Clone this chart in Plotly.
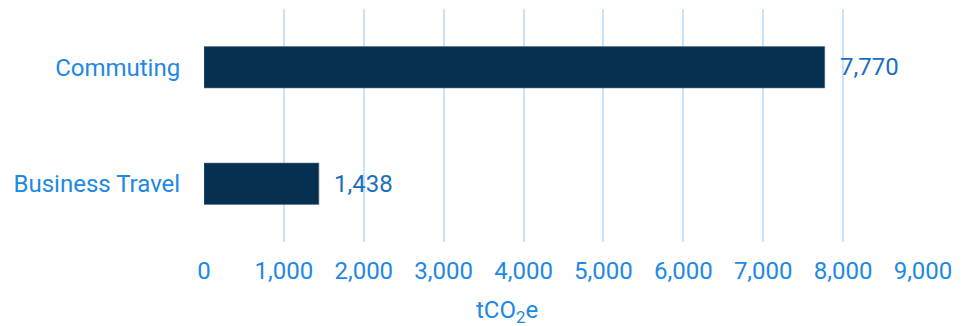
import plotly.graph_objects as go

categories = ["Business Travel", "Commuting"]
values = [1438, 7770]
value_labels = ["1,438", "7,770"]
tick_vals = [0, 1000, 2000, 3000, 4000, 5000, 6000, 7000, 8000, 9000]
tick_text = ["0", "1,000", "2,000", "3,000", "4,000", "5,000", "6,000", "7,000", "8,000", "9,000"]

BAR = "#05304f"
BLUE = "#1e88e5"
VAL = "#1a6fbd"
GRID = "#c9e2fa"
FONT = "Roboto"
FS = 24

fig = go.Figure()
fig.add_trace(go.Bar(
    y=categories, x=values, orientation="h",
    marker=dict(color=BAR, line=dict(color="#5a7285", width=0.6)),
    width=0.355, hoverinfo="skip",
))
for c, v, t in zip(categories, values, value_labels):
    fig.add_annotation(x=v, y=c, text=t, showarrow=False, xanchor="left",
                       xshift=13, font=dict(family=FONT, size=FS, color=VAL))

fig.add_annotation(x=0.422, y=0, xref="paper", yref="paper", yshift=-69,
                   text="tCO<sub>2</sub>e", showarrow=False, yanchor="middle",
                   font=dict(family=FONT, size=FS, color=BLUE))

fig.update_layout(
    width=961, height=326,
    margin=dict(l=204, r=32, t=9, b=84),
    paper_bgcolor="white", plot_bgcolor="white",
    showlegend=False,
    font=dict(family=FONT, size=FS, color=BLUE),
    xaxis=dict(range=[0, 9000], tickvals=tick_vals, ticktext=tick_text,
               showgrid=True, gridcolor=GRID, gridwidth=2, zeroline=False,
               showline=False, ticks="outside", ticklen=7, tickcolor="rgba(0,0,0,0)",
               tickfont=dict(family=FONT, size=FS, color=BLUE)),
    yaxis=dict(range=[-0.5, 1.5], showgrid=False, zeroline=False, showline=False,
               ticks="outside", ticklen=18, tickcolor="rgba(0,0,0,0)",
               tickfont=dict(family=FONT, size=FS, color=BLUE)),
)
fig.write_html("out.html")
